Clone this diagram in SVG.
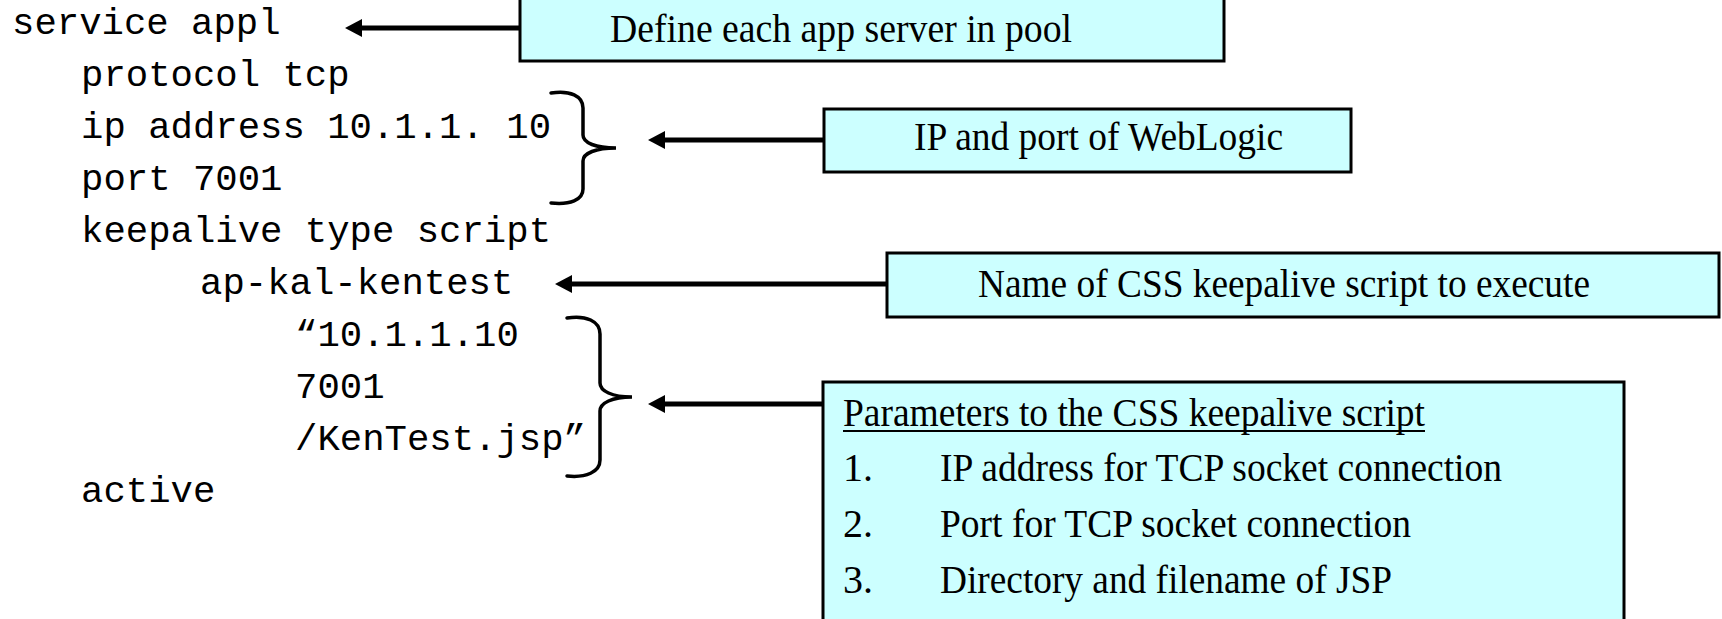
<svg xmlns="http://www.w3.org/2000/svg" width="1722" height="619" viewBox="0 0 1722 619">
<style>
.code{font-family:"Liberation Mono","Courier New",monospace;font-size:37.3px;fill:#000}
.box{fill:#CCFFFF;stroke:#000;stroke-width:3}
.lbl{font-family:"Liberation Serif","Times New Roman",serif;font-size:40px;fill:#000}
.conn{stroke:#000;stroke-width:5;fill:none}
.brace{stroke:#000;stroke-width:3.5;fill:none;stroke-linecap:round}
</style>
<defs>
<marker id="ah" markerUnits="userSpaceOnUse" markerWidth="20" markerHeight="20" viewBox="0 0 20 20" refX="12" refY="10" orient="auto">
<path d="M1,1 L18,10 L1,19 Z" fill="#000"/>
</marker>
</defs>
<g id="code">
<text class="code" x="12" y="34">service appl</text>
<text class="code" x="81" y="86">protocol tcp</text>
<text class="code" x="81" y="138">ip address 10.1.1. 10</text>
<text class="code" x="81" y="190">port 7001</text>
<text class="code" x="81" y="242">keepalive type script</text>
<text class="code" x="200" y="294">ap-kal-kentest</text>
<text class="code" x="295" y="346">“10.1.1.10</text>
<text class="code" x="295" y="398">7001</text>
<text class="code" x="295" y="450">/KenTest.jsp”</text>
<text class="code" x="81" y="502">active</text>
</g>
<g id="braces">
<path class="brace" d="M551,93 C570,90 583,96 583,108 L583,135 C583,143 596,148 616,148 C596,148 583,153 583,161 L583,189 C583,200 570,205 551,203"/>
<path class="brace" d="M567,318 C586,315 600,321 600,334 L600,383 C600,391 612,397 632,397 C612,397 600,403 600,411 L600,460 C600,472 586,478 567,476"/>
</g>
<g id="connectors">
<line class="conn" x1="520" y1="28" x2="351" y2="28" marker-end="url(#ah)"/>
<line class="conn" x1="824" y1="140" x2="654" y2="140" marker-end="url(#ah)"/>
<line class="conn" x1="887" y1="284" x2="561" y2="284" marker-end="url(#ah)"/>
<line class="conn" x1="824" y1="404" x2="654" y2="404" marker-end="url(#ah)"/>
</g>
<g id="box-define">
<rect class="box" x="520" y="-3" width="704" height="64"/>
<text class="lbl" x="610" y="42" textLength="462" lengthAdjust="spacingAndGlyphs">Define each app server in pool</text>
</g>
<g id="box-ip">
<rect class="box" x="824" y="109" width="527" height="63"/>
<text class="lbl" x="914" y="150" textLength="369" lengthAdjust="spacingAndGlyphs">IP and port of WebLogic</text>
</g>
<g id="box-name">
<rect class="box" x="887" y="253" width="832" height="64"/>
<text class="lbl" x="978" y="297" textLength="612" lengthAdjust="spacingAndGlyphs">Name of CSS keepalive script to execute</text>
</g>
<g id="box-params">
<rect class="box" x="823" y="382" width="801" height="260"/>
<text class="lbl" x="843" y="426" textLength="582" lengthAdjust="spacingAndGlyphs">Parameters to the CSS keepalive script</text>
<line x1="843" y1="431" x2="1425" y2="431" stroke="#000" stroke-width="2"/>
<text class="lbl" x="843" y="481">1.</text>
<text class="lbl" x="940" y="481" textLength="562" lengthAdjust="spacingAndGlyphs">IP address for TCP socket connection</text>
<text class="lbl" x="843" y="537">2.</text>
<text class="lbl" x="940" y="537" textLength="471" lengthAdjust="spacingAndGlyphs">Port for TCP socket connection</text>
<text class="lbl" x="843" y="593">3.</text>
<text class="lbl" x="940" y="593" textLength="452" lengthAdjust="spacingAndGlyphs">Directory and filename of JSP</text>
</g>
</svg>
